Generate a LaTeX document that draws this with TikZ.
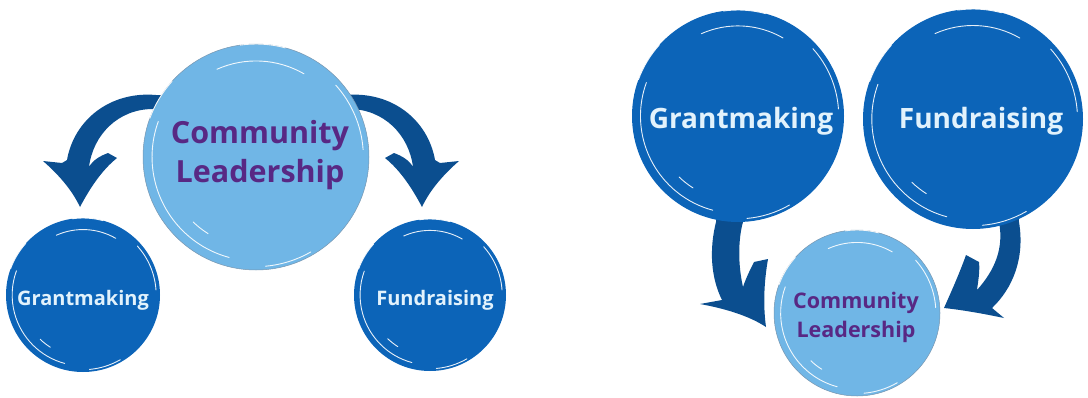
\documentclass[tikz,border=0pt]{standalone}
\usepackage{fontspec}
\setmainfont{Open Sans}
\definecolor{skyc}{RGB}{112,182,230}
\definecolor{rimc}{RGB}{120,150,175}
\definecolor{bluec}{RGB}{12,100,184}
\definecolor{arrowc}{RGB}{11,78,143}
\definecolor{purplec}{RGB}{88,40,132}
\definecolor{palec}{RGB}{226,242,252}
% hand-drawn white strokes just inside / on the rim of a circle;
% angles are measured clockwise from the right (canvas units in pt)
\newcommand\sketchstroke[5]{% node, radius, factor, from, to
  \draw[sketch] (#1.center) ++(-#4:#3*#2 pt) arc[start angle=-#4,end angle=-#5,radius=#3*#2 pt];}
\newcommand\sketchmarks[2]{%
  \sketchstroke{#1}{#2}{0.92}{105}{200}
  \sketchstroke{#1}{#2}{0.85}{246}{300}
  \sketchstroke{#1}{#2}{0.95}{318}{356}
  \sketchstroke{#1}{#2}{1.0}{200}{222}
  \sketchstroke{#1}{#2}{0.8}{122}{134}
  \sketchstroke{#1}{#2}{1.0}{262}{285}
  \sketchstroke{#1}{#2}{0.97}{60}{85}
}
\begin{document}
\begin{tikzpicture}[x=1pt,y=-1pt,
  sketch/.style={draw=white, line width=0.9pt, line cap=round, opacity=0.9},
  lightc/.style={circle, fill=skyc, draw=rimc, line width=0.5pt, inner sep=0pt, minimum size=#1},
  darkc/.style={circle, fill=bluec, inner sep=0pt, minimum size=#1},
  purpletext/.style={text=purplec, align=center, anchor=base, inner sep=0pt},
  paletext/.style={text=palec, anchor=base, inner sep=0pt},
  arrowfill/.style={fill=arrowc}]
\useasboundingbox (0,0) rectangle (1088,397);

% ---------- left diagram: leadership feeds the two programmes ----------
\fill[arrowfill] (165,95) -- (156,95) .. controls (110,91) and (74,120) .. (67,160)
  -- (62,163) -- (43,161)
  .. controls (59,175) and (72,190) .. (80,207)
  .. controls (90,188) and (102,170) .. (117,158)
  -- (108,153) .. controls (100,156) and (93,160) .. (89,167)
  .. controls (93,135) and (118,109) .. (153,109) -- (165,109) -- cycle;
\begin{scope}[shift={(502,0)}, xscale=-1]
\fill[arrowfill] (165,95) -- (156,95) .. controls (110,91) and (74,120) .. (67,160)
  -- (62,163) -- (43,161)
  .. controls (59,175) and (72,190) .. (80,207)
  .. controls (90,188) and (102,170) .. (117,158)
  -- (108,153) .. controls (100,156) and (93,160) .. (89,167)
  .. controls (93,135) and (118,109) .. (153,109) -- (165,109) -- cycle;
\end{scope}

\node[lightc=226pt] (cl1) at (256,157) {};
\node[darkc=154pt] (gm1) at (83,295) {};
\node[darkc=152pt] (fr1) at (430,295) {};
\sketchmarks{cl1}{113}
\sketchmarks{gm1}{77}
\sketchmarks{fr1}{76}
% a multi-line node's base is the baseline of its last line
\node[purpletext, font=\fontsize{30.5}{39}\selectfont\bfseries] (cl1t) at (260,182) {Community\\Leadership};
\node[paletext, font=\fontsize{20}{24}\selectfont\bfseries] (gm1t) at (83,305) {Grantmaking};
\node[paletext, font=\fontsize{20}{24}\selectfont\bfseries] (fr1t) at (435,305) {Fundraising};

% ---------- right diagram: the two programmes build leadership ----------
\fill[arrowfill] (718,205) -- (716,222) .. controls (709,250) and (711,278) .. (722,300)
  -- (700,304)
  .. controls (722,308) and (748,315) .. (766,327)
  .. controls (763,305) and (764,282) .. (768,259)
  -- (754,262) .. controls (750,270) and (746,278) .. (743,287)
  .. controls (738,265) and (738,240) .. (743,222) -- (743,205) -- cycle;
\fill[arrowfill] (1018,205) -- (1019,222) .. controls (1025,258) and (1013,288) .. (992,308)
  -- (1004,318)
  .. controls (985,314) and (963,310) .. (944,308)
  .. controls (952,290) and (960,272) .. (966,255)
  -- (979,262) .. controls (980,272) and (978,282) .. (977,290)
  .. controls (995,270) and (1004,248) .. (999,222) -- (999,205) -- cycle;

\node[darkc=212pt] (gm2) at (738,116) {};
\node[darkc=220pt] (fr2) at (973,119) {};
\node[lightc=166pt] (cl2) at (857,313) {};
\sketchmarks{gm2}{106}
\sketchmarks{fr2}{110}
\sketchmarks{cl2}{83}
\node[paletext, font=\fontsize{28}{34}\selectfont\bfseries] (gm2t) at (741,128) {Grantmaking};
\node[paletext, font=\fontsize{28}{34}\selectfont\bfseries] (fr2t) at (981,128) {Fundraising};
\node[purpletext, font=\fontsize{21.5}{29}\selectfont\bfseries] (cl2t) at (856,337) {Community\\Leadership};
\end{tikzpicture}
\end{document}
